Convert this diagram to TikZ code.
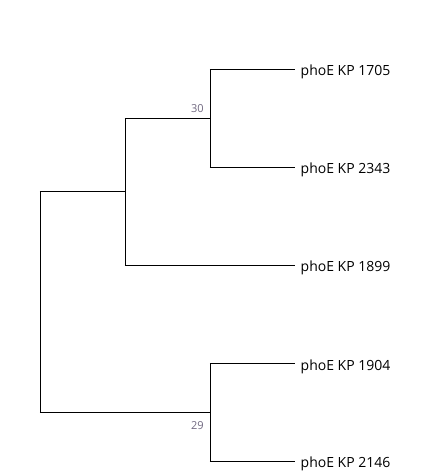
\documentclass[tikz,border=0pt]{standalone}
\usepackage{fontspec}
\setmainfont{Open Sans}
\definecolor{bootgray}{RGB}{112,104,128}
\begin{document}
\begin{tikzpicture}[x=1pt,y=-1pt,
  branch/.style={draw=black,line width=1pt},
  leaflabel/.style={anchor=base west,inner sep=0pt,font=\fontsize{14}{16}\selectfont,text=black},
  bootlabel/.style={anchor=base east,inner sep=0pt,font=\fontsize{11}{13}\selectfont,text=bootgray}]
\useasboundingbox (0,0) rectangle (432,476);
% nodes of the tree
\coordinate (root) at (40.3,300.5);
\coordinate (n2) at (125.3,191.3);
\coordinate (n30) at (210.3,118.3);
\coordinate (n29) at (210.3,412.3);
\coordinate (e1) at (295,69.3);
\coordinate (e2) at (295,167.3);
\coordinate (e3) at (295,265.3);
\coordinate (e4) at (295,363.7);
\coordinate (e5) at (295,461.3);
% leaf labels
\node[leaflabel] (t1) at (300.5,75.9) {phoE KP 1705};
\node[leaflabel] (t2) at (300.5,173.9) {phoE KP 2343};
\node[leaflabel] (t3) at (300.5,271.9) {phoE KP 1899};
\node[leaflabel] (t4) at (300.5,370.3) {phoE KP 1904};
\node[leaflabel] (t5) at (300.5,467.9) {phoE KP 2146};
% bootstrap labels
\node[bootlabel] (b30) at (203.8,112.5) {30};
\node[bootlabel] (b29) at (203.8,429.2) {29};
% branches
\draw[branch] (root |- n2) -- ([yshift=-0.5pt]root);
\draw[branch] ([yshift=0.5pt]root) -- (root |- n29);
\draw[branch] ([xshift=-0.5pt]root |- n2) -- (n2);
\draw[branch] ([xshift=-0.5pt]root |- n29) -- (n29);
\draw[branch] (n2 |- n30) -- (n2 |- e3);
\draw[branch] ([xshift=-0.5pt]n2 |- n30) -- (n30);
\draw[branch] ([xshift=-0.5pt]n2 |- e3) -- (e3);
\draw[branch] (n30 |- e1) -- (n30 |- e2);
\draw[branch] ([xshift=-0.5pt]n30 |- e1) -- (e1);
\draw[branch] ([xshift=-0.5pt]n30 |- e2) -- (e2);
\draw[branch] (n29 |- e4) -- (n29 |- e5);
\draw[branch] ([xshift=-0.5pt]n29 |- e4) -- (e4);
\draw[branch] ([xshift=-0.5pt]n29 |- e5) -- (e5);
\end{tikzpicture}
\end{document}
